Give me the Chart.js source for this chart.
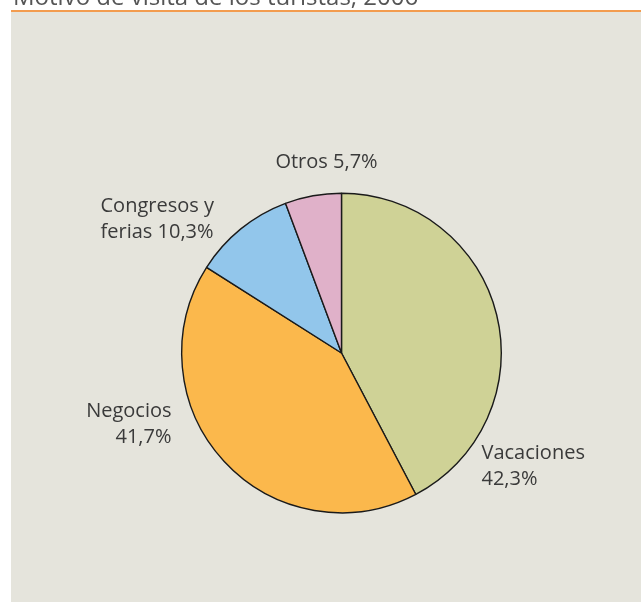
<!DOCTYPE html>
<html>
<head>
<meta charset="utf-8">
<script src="https://cdn.jsdelivr.net/npm/chart.js@4"></script>
<style>
  html, body { margin: 0; padding: 0; background: #ffffff; overflow: hidden; }
  #grafico { display: block; }
</style>
</head>
<body>
<canvas id="grafico" width="641" height="603"></canvas>
<script>
// datos
const titulo = 'Motivo de visita de los turistas, 2006';
const categorias = ['Vacaciones', 'Negocios', 'Congresos y ferias', 'Otros'];
const valores = [42.3, 41.7, 10.3, 5.7];
const colores = ['#cfd296', '#fbb84c', '#92c6eb', '#e0b1c9'];

// como se parte cada etiqueta ({v} = porcentaje)
const lineasEtiqueta = [
    ['Vacaciones', '{v}'],
    ['Negocios', '{v}'],
    ['Congresos y', 'ferias {v}'],
    ['Otros {v}']
];
// posicion de las etiquetas respecto al centro de la tarta
const posEtiqueta = [
    { dx: 140, dy: 106, align: 'left' },
    { dx: -170, dy: 64, align: 'right' },
    { dx: -241, dy: -141, align: 'left' },
    { dx: -15, dy: -185, align: 'center' }
];

const fmt = v => v.toFixed(1).replace('.', ',') + '%';

// fondo, linea naranja y titulo
const fondo = {
    id: 'fondo',
    beforeDraw(chart) {
        const ctx = chart.ctx;
        ctx.save();
        ctx.fillStyle = '#ffffff';
        ctx.fillRect(0, 0, chart.width, chart.height);
        ctx.fillStyle = '#e5e4dc';
        ctx.fillRect(11, 12, chart.width - 11, chart.height - 13);
        ctx.fillStyle = '#f39c4f';
        ctx.fillRect(11, 10, chart.width - 11, 2);
        ctx.fillStyle = '#555555';
        ctx.font = '24px "Open Sans"';
        ctx.textBaseline = 'alphabetic';
        ctx.fillText(titulo, 13, 5);
        ctx.restore();
    }
};

// etiquetas fuera de la tarta
const etiquetas = {
    id: 'etiquetas',
    afterDraw(chart) {
        const ctx = chart.ctx;
        const arcs = chart.getDatasetMeta(0).data;
        ctx.save();
        ctx.fillStyle = '#3a3a3a';
        ctx.font = '20px "Open Sans"';
        ctx.textBaseline = 'alphabetic';
        arcs.forEach((arc, i) => {
            const p = posEtiqueta[i];
            ctx.textAlign = p.align;
            lineasEtiqueta[i].forEach((l, j) => {
                ctx.fillText(l.replace('{v}', fmt(valores[i])), arc.x + p.dx, arc.y + p.dy + j * 26);
            });
        });
        ctx.restore();
    }
};

new Chart(document.getElementById('grafico').getContext('2d'), {
    type: 'pie',
    data: {
        labels: categorias,
        datasets: [{
            data: valores,
            backgroundColor: colores,
            borderColor: '#1a1a1a',
            borderWidth: 1.4
        }]
    },
    options: {
        responsive: false,
        animation: false,
        layout: { padding: { left: 181, right: 139, top: 192, bottom: 89 } },
        plugins: { legend: { display: false }, tooltip: { enabled: false } }
    },
    plugins: [fondo, etiquetas]
});
</script>
</body>
</html>
